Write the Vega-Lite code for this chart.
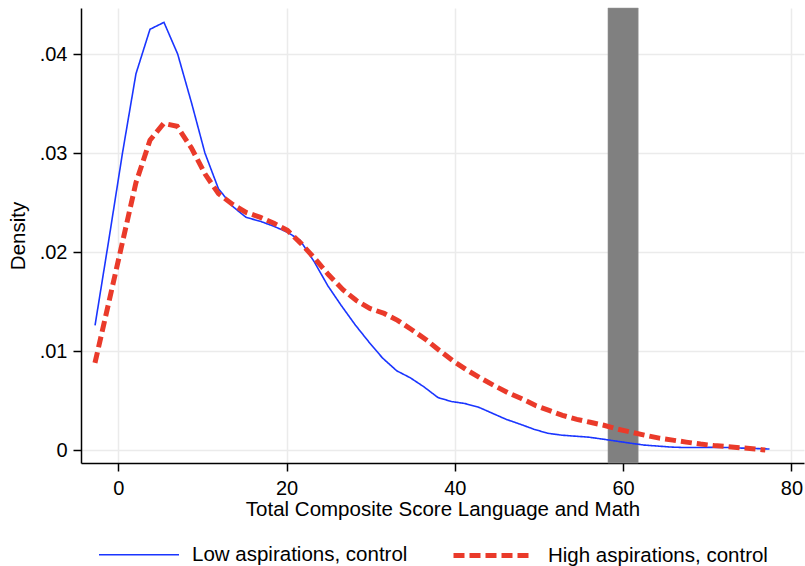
{
  "$schema": "https://vega.github.io/schema/vega-lite/v6.json",
  "autosize": {"type": "none"},
  "width": 723,
  "height": 455,
  "padding": {"left": 81, "top": 8, "right": 1, "bottom": 103},
  "background": "white",
  "config": {
    "view": {"stroke": null},
    "font": "Liberation Sans",
    "axis": {
      "domainColor": "black",
      "domainWidth": 1.5,
      "tickColor": "black",
      "tickWidth": 1.5,
      "tickSize": 8,
      "gridColor": "#ebebeb",
      "gridWidth": 1.5,
      "labelFont": "Liberation Sans",
      "labelFontSize": 20,
      "labelColor": "black",
      "titleFont": "Liberation Sans",
      "titleFontSize": 20.5,
      "titleFontWeight": "normal",
      "titleColor": "black"
    },
    "legend": {"labelLimit": 400}
  },
  "datasets": {
    "band": [{"x1": 58.2, "x2": 61.8}],
    "curves": [
      {"s": "Low aspirations, control", "x": -2.76, "y": 0.0126},
      {"s": "Low aspirations, control", "x": -1.13, "y": 0.0212},
      {"s": "Low aspirations, control", "x": 0.5, "y": 0.0300},
      {"s": "Low aspirations, control", "x": 2.1, "y": 0.0380},
      {"s": "Low aspirations, control", "x": 3.77, "y": 0.0425},
      {"s": "Low aspirations, control", "x": 5.43, "y": 0.0432},
      {"s": "Low aspirations, control", "x": 7.06, "y": 0.0400},
      {"s": "Low aspirations, control", "x": 8.73, "y": 0.0350},
      {"s": "Low aspirations, control", "x": 10.3, "y": 0.0300},
      {"s": "Low aspirations, control", "x": 11.9, "y": 0.0264},
      {"s": "Low aspirations, control", "x": 13.6, "y": 0.0246},
      {"s": "Low aspirations, control", "x": 15.2, "y": 0.0235},
      {"s": "Low aspirations, control", "x": 16.9, "y": 0.0231},
      {"s": "Low aspirations, control", "x": 18.5, "y": 0.0226},
      {"s": "Low aspirations, control", "x": 20.1, "y": 0.0220},
      {"s": "Low aspirations, control", "x": 21.6, "y": 0.0212},
      {"s": "Low aspirations, control", "x": 23.3, "y": 0.0190},
      {"s": "Low aspirations, control", "x": 24.9, "y": 0.0166},
      {"s": "Low aspirations, control", "x": 26.5, "y": 0.0146},
      {"s": "Low aspirations, control", "x": 28.2, "y": 0.0126},
      {"s": "Low aspirations, control", "x": 29.8, "y": 0.0109},
      {"s": "Low aspirations, control", "x": 31.4, "y": 0.0093},
      {"s": "Low aspirations, control", "x": 33.1, "y": 0.0080},
      {"s": "Low aspirations, control", "x": 34.7, "y": 0.0073},
      {"s": "Low aspirations, control", "x": 36.3, "y": 0.0064},
      {"s": "Low aspirations, control", "x": 38.0, "y": 0.0053},
      {"s": "Low aspirations, control", "x": 39.6, "y": 0.0049},
      {"s": "Low aspirations, control", "x": 41.2, "y": 0.0047},
      {"s": "Low aspirations, control", "x": 42.9, "y": 0.0043},
      {"s": "Low aspirations, control", "x": 44.5, "y": 0.0037},
      {"s": "Low aspirations, control", "x": 46.1, "y": 0.0031},
      {"s": "Low aspirations, control", "x": 47.8, "y": 0.0026},
      {"s": "Low aspirations, control", "x": 49.4, "y": 0.0021},
      {"s": "Low aspirations, control", "x": 51.0, "y": 0.0017},
      {"s": "Low aspirations, control", "x": 52.7, "y": 0.0015},
      {"s": "Low aspirations, control", "x": 54.3, "y": 0.0014},
      {"s": "Low aspirations, control", "x": 55.9, "y": 0.0013},
      {"s": "Low aspirations, control", "x": 57.6, "y": 0.0011},
      {"s": "Low aspirations, control", "x": 59.2, "y": 0.0009},
      {"s": "Low aspirations, control", "x": 60.8, "y": 0.0007},
      {"s": "Low aspirations, control", "x": 62.5, "y": 0.0005},
      {"s": "Low aspirations, control", "x": 64.1, "y": 0.0004},
      {"s": "Low aspirations, control", "x": 65.7, "y": 0.0003},
      {"s": "Low aspirations, control", "x": 67.3, "y": 0.00025},
      {"s": "Low aspirations, control", "x": 69.0, "y": 0.00025},
      {"s": "Low aspirations, control", "x": 70.6, "y": 0.00027},
      {"s": "Low aspirations, control", "x": 72.2, "y": 0.00026},
      {"s": "Low aspirations, control", "x": 73.9, "y": 0.0002},
      {"s": "Low aspirations, control", "x": 75.5, "y": 0.00016},
      {"s": "Low aspirations, control", "x": 77.4, "y": 0.0001},
      {"s": "High aspirations, control", "x": -2.77, "y": 0.0088},
      {"s": "High aspirations, control", "x": -1.1, "y": 0.0150},
      {"s": "High aspirations, control", "x": 0.5, "y": 0.0210},
      {"s": "High aspirations, control", "x": 2.1, "y": 0.0270},
      {"s": "High aspirations, control", "x": 3.77, "y": 0.0313},
      {"s": "High aspirations, control", "x": 5.4, "y": 0.0330},
      {"s": "High aspirations, control", "x": 7.0, "y": 0.0327},
      {"s": "High aspirations, control", "x": 8.7, "y": 0.0305},
      {"s": "High aspirations, control", "x": 10.3, "y": 0.0279},
      {"s": "High aspirations, control", "x": 11.9, "y": 0.0259},
      {"s": "High aspirations, control", "x": 13.6, "y": 0.0248},
      {"s": "High aspirations, control", "x": 15.2, "y": 0.0240},
      {"s": "High aspirations, control", "x": 16.9, "y": 0.0235},
      {"s": "High aspirations, control", "x": 18.5, "y": 0.0229},
      {"s": "High aspirations, control", "x": 20.1, "y": 0.0222},
      {"s": "High aspirations, control", "x": 21.8, "y": 0.0208},
      {"s": "High aspirations, control", "x": 23.4, "y": 0.0193},
      {"s": "High aspirations, control", "x": 25.0, "y": 0.0177},
      {"s": "High aspirations, control", "x": 26.7, "y": 0.0162},
      {"s": "High aspirations, control", "x": 28.3, "y": 0.0151},
      {"s": "High aspirations, control", "x": 29.9, "y": 0.0143},
      {"s": "High aspirations, control", "x": 31.6, "y": 0.0138},
      {"s": "High aspirations, control", "x": 33.2, "y": 0.0131},
      {"s": "High aspirations, control", "x": 34.8, "y": 0.0122},
      {"s": "High aspirations, control", "x": 36.5, "y": 0.0112},
      {"s": "High aspirations, control", "x": 38.1, "y": 0.0101},
      {"s": "High aspirations, control", "x": 39.8, "y": 0.0090},
      {"s": "High aspirations, control", "x": 41.4, "y": 0.0081},
      {"s": "High aspirations, control", "x": 43.0, "y": 0.0073},
      {"s": "High aspirations, control", "x": 44.7, "y": 0.0065},
      {"s": "High aspirations, control", "x": 46.3, "y": 0.0058},
      {"s": "High aspirations, control", "x": 47.9, "y": 0.0052},
      {"s": "High aspirations, control", "x": 49.6, "y": 0.0045},
      {"s": "High aspirations, control", "x": 51.2, "y": 0.0040},
      {"s": "High aspirations, control", "x": 52.8, "y": 0.0035},
      {"s": "High aspirations, control", "x": 54.5, "y": 0.0031},
      {"s": "High aspirations, control", "x": 56.1, "y": 0.0028},
      {"s": "High aspirations, control", "x": 57.7, "y": 0.0025},
      {"s": "High aspirations, control", "x": 59.4, "y": 0.0021},
      {"s": "High aspirations, control", "x": 61.0, "y": 0.0018},
      {"s": "High aspirations, control", "x": 62.6, "y": 0.0015},
      {"s": "High aspirations, control", "x": 64.3, "y": 0.0012},
      {"s": "High aspirations, control", "x": 65.9, "y": 0.0010},
      {"s": "High aspirations, control", "x": 67.5, "y": 0.0008},
      {"s": "High aspirations, control", "x": 69.2, "y": 0.0006},
      {"s": "High aspirations, control", "x": 70.8, "y": 0.00045},
      {"s": "High aspirations, control", "x": 72.4, "y": 0.00035},
      {"s": "High aspirations, control", "x": 74.1, "y": 0.00022},
      {"s": "High aspirations, control", "x": 75.7, "y": 0.0001},
      {"s": "High aspirations, control", "x": 76.9, "y": 0.0}
    ]
  },
  "layer": [
    {
      "data": {"name": "band"},
      "mark": {"type": "rect", "color": "#808080", "stroke": "#999999", "strokeWidth": 0.5},
      "encoding": {
        "x": {"field": "x1", "type": "quantitative", "scale": {"domain": [-4.43, 81.5], "nice": false, "zero": false},
          "axis": {"values": [0, 20, 40, 60, 80], "title": "Total Composite Score Language and Math", "labelPadding": 7, "titlePadding": 1, "labelFlush": false}},
        "x2": {"field": "x2"}
      }
    },
    {
      "data": {"name": "curves"},
      "mark": {"type": "line", "strokeCap": "butt", "strokeJoin": "miter"},
      "encoding": {
        "x": {"field": "x", "type": "quantitative"},
        "y": {"field": "y", "type": "quantitative",
          "scale": {"domain": [-0.00131, 0.04465], "nice": false, "zero": false},
          "axis": {"values": [0, 0.01, 0.02, 0.03, 0.04], "title": "Density", "labelPadding": 6, "titlePadding": 11,
            "labelExpr": "datum.value == 0 ? '0' : replace(format(datum.value, '.2f'), '0.', '.')"}},
        "order": {"field": "x", "type": "quantitative"},
        "color": {"field": "s", "type": "nominal",
          "scale": {"domain": ["Low aspirations, control", "High aspirations, control"], "range": ["#1a35ff", "#ea3a2a"]},
          "legend": {"orient": "none", "legendX": 17, "legendY": 505, "direction": "horizontal", "title": null,
            "symbolType": "stroke", "symbolSize": 6400, "labelFontSize": 20.5, "labelFont": "Liberation Sans", "labelColor": "black",
            "labelOffset": 12, "columnPadding": 35, "labelLimit": 400}},
        "strokeDash": {"field": "s", "type": "nominal",
          "scale": {"domain": ["Low aspirations, control", "High aspirations, control"], "range": [[1, 0], [11, 5]]},
          "legend": {"orient": "none", "legendX": 17, "legendY": 505, "direction": "horizontal", "title": null,
            "symbolType": "stroke", "symbolSize": 6400, "labelFontSize": 20.5, "labelFont": "Liberation Sans", "labelColor": "black",
            "labelOffset": 12, "columnPadding": 35, "labelLimit": 400}},
        "strokeWidth": {"field": "s", "type": "nominal",
          "scale": {"domain": ["Low aspirations, control", "High aspirations, control"], "range": [1.6, 5]},
          "legend": {"orient": "none", "legendX": 17, "legendY": 505, "direction": "horizontal", "title": null,
            "symbolType": "stroke", "symbolSize": 6400, "labelFontSize": 20.5, "labelFont": "Liberation Sans", "labelColor": "black",
            "labelOffset": 12, "columnPadding": 35, "labelLimit": 400}}
      }
    }
  ]
}
